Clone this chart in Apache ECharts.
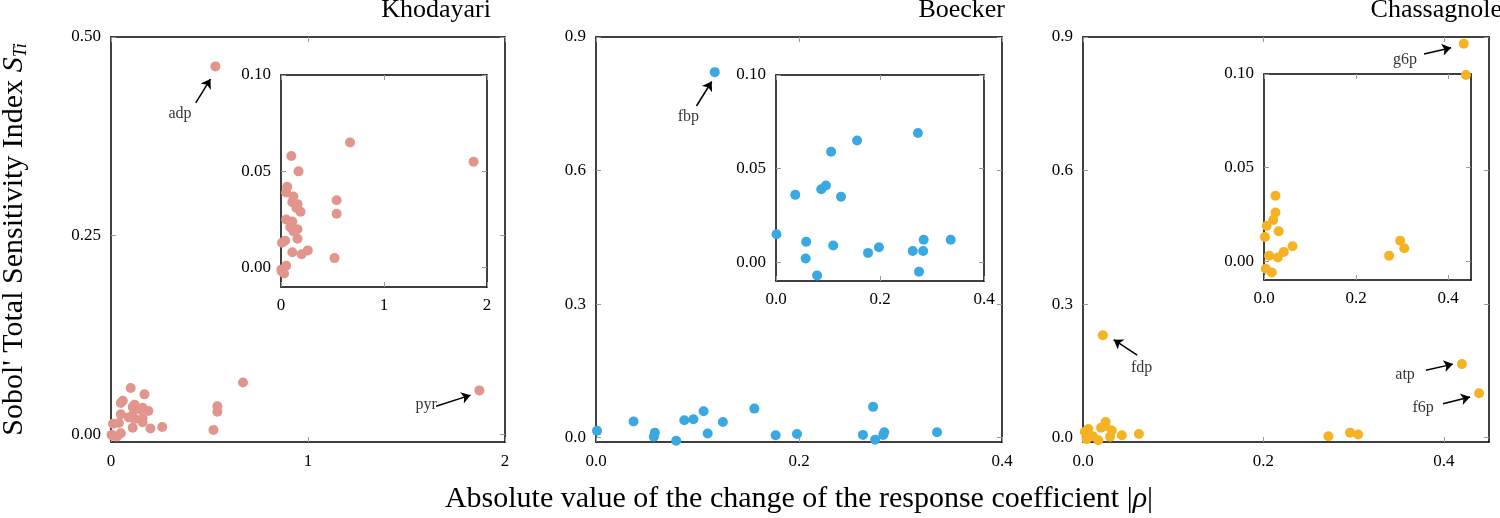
<!DOCTYPE html>
<html>
  <head>
    <meta charset="utf-8" />
    <title>Sobol total sensitivity vs response coefficient</title>
    <script src="https://cdn.jsdelivr.net/npm/echarts@6/dist/echarts.min.js"></script>
  </head>
  <body style="margin:0;background:#fff">
    <div id="main" style="width:1500px;height:518px;"></div>
    <script type="text/javascript">
// ---- data: [ |delta rho| , S_Ti ] ----
var panelNames = ['Khodayari', 'Boecker', 'Chassagnole'];

var khodayariPts = [
  [0.53, 0.463], [1.87, 0.055], [0.67, 0.065], [0.10, 0.058], [0.17, 0.050],
  [0.06, 0.042], [0.05, 0.039], [0.12, 0.037], [0.11, 0.034], [0.16, 0.033],
  [0.15, 0.031], [0.19, 0.029], [0.54, 0.035], [0.54, 0.028], [0.05, 0.025],
  [0.11, 0.024], [0.09, 0.021], [0.16, 0.020], [0.12, 0.019], [0.16, 0.015],
  [0.04, 0.014], [0.01, 0.013], [0.11, 0.008], [0.20, 0.007], [0.26, 0.009],
  [0.52, 0.005], [0.05, 0.001], [0.003, -0.001], [0.03, -0.003], [0.01, -0.002]
];

var boeckerPts = [
  [0.117, 0.821], [0.001, 0.015], [0.037, 0.036], [0.058, 0.011], [0.057, 0.002],
  [0.079, -0.007], [0.087, 0.039], [0.096, 0.041], [0.106, 0.059], [0.110, 0.009],
  [0.125, 0.035], [0.156, 0.065], [0.177, 0.005], [0.198, 0.008], [0.263, 0.006],
  [0.273, 0.069], [0.284, 0.012], [0.283, 0.006], [0.275, -0.005], [0.336, 0.012]
];

var chassagnolePts = [
  [0.422, 0.885], [0.022, 0.230], [0.420, 0.165], [0.439, 0.0995],
  [0.025, 0.035], [0.025, 0.026], [0.020, 0.022], [0.006, 0.019], [0.032, 0.016],
  [0.002, 0.013], [0.062, 0.008], [0.043, 0.005], [0.011, 0.003], [0.030, 0.002],
  [0.004, -0.004], [0.017, -0.006], [0.272, 0.003], [0.296, 0.011], [0.305, 0.007]
];

// annotations: label position, arrow tail, arrow head (data units)
var khodayariNotes = [
  { name: 'adp', text: [0.35, 0.403], tail: [0.43, 0.417], head: [0.505, 0.447] },
  { name: 'pyr', text: [1.60, 0.037], tail: [1.65, 0.035], head: [1.825, 0.049] }
];
var boeckerNotes = [
  { name: 'fbp', text: [0.091, 0.721], tail: [0.099, 0.745], head: [0.114, 0.800] }
];
var chassagnoleNotes = [
  { name: 'fdp', text: [0.065, 0.156], tail: [0.060, 0.185], head: [0.034, 0.220] },
  { name: 'g6p', text: [0.357, 0.848], tail: [0.378, 0.862], head: [0.408, 0.876] },
  { name: 'atp', text: [0.357, 0.140], tail: [0.380, 0.151], head: [0.410, 0.165] },
  { name: 'f6p', text: [0.377, 0.066], tail: [0.399, 0.076], head: [0.429, 0.091] }
];

// tick values
var xTicksK = [0, 1, 2];
var xTicksBC = [0, 0.2, 0.4];
var yTicksK = [0, 0.25, 0.5];
var yTicksBC = [0, 0.3, 0.6, 0.9];
var yTicksInset = [0, 0.05, 0.1];

var colors = ['#e2958c', '#3aa9e2', '#f5b324'];

// ---- layout ----
var FONT = 'Liberation Serif';
var mainBoxes = [
  { left: 111, top: 37, width: 394, height: 405 },
  { left: 596, top: 37, width: 406, height: 405 },
  { left: 1083, top: 37, width: 406, height: 405 }
];
var insetBoxes = [
  { left: 281, top: 75, width: 206, height: 212 },
  { left: 776, top: 75, width: 208, height: 206 },
  { left: 1264, top: 74, width: 207, height: 206 }
];
var panels = [
  { pts: khodayariPts, notes: khodayariNotes, x: [0, 2], y: [-0.01, 0.5], xt: xTicksK, yt: yTicksK, xd: 0, yd: 2 },
  { pts: boeckerPts, notes: boeckerNotes, x: [0, 0.4], y: [-0.01, 0.9], xt: xTicksBC, yt: yTicksBC, xd: 1, yd: 1 },
  { pts: chassagnolePts, notes: chassagnoleNotes, x: [0, 0.45], y: [-0.01, 0.9], xt: xTicksBC, yt: yTicksBC, xd: 1, yd: 1 }
];

function axis(gridIndex, pos, range, ticks, dec, showLabel, margin) {
  return {
    type: 'value', gridIndex: gridIndex, position: pos,
    min: range[0], max: range[1],
    splitLine: { show: false },
    axisLine: { show: true, onZero: false, lineStyle: { color: '#000', width: 1.5 } },
    axisTick: { show: true, inside: true, length: 5, customValues: ticks, lineStyle: { color: '#9a9a9a', width: 1 } },
    axisLabel: {
      show: showLabel, customValues: ticks, margin: margin,
      formatter: function (v) { return (+v).toFixed(dec); },
      fontFamily: FONT, fontSize: 17, color: '#000'
    }
  };
}

var grids = [], xAxes = [], yAxes = [], series = [];

panels.forEach(function (p, i) {
  var gm = 2 * i, gi = 2 * i + 1;
  var base = { show: true, backgroundColor: '#fff', borderWidth: 0, containLabel: false, outerBoundsMode: 'none' };
  grids.push(Object.assign({}, base, mainBoxes[i]));
  grids.push(Object.assign({}, base, insetBoxes[i]));

  // main: bottom/top, left/right
  xAxes.push(axis(gm, 'bottom', p.x, p.xt, p.xd, true, 11));
  xAxes.push(axis(gm, 'top', p.x, p.xt, p.xd, false, 8));
  yAxes.push(axis(gm, 'left', p.y, p.yt, p.yd, true, 10));
  yAxes.push(axis(gm, 'right', p.y, p.yt, p.yd, false, 8));
  // inset
  xAxes.push(axis(gi, 'bottom', p.x, p.xt, p.xd, true, 10));
  xAxes.push(axis(gi, 'top', p.x, p.xt, p.xd, false, 8));
  yAxes.push(axis(gi, 'left', [-0.01, 0.1], yTicksInset, 2, true, 10));
  yAxes.push(axis(gi, 'right', [-0.01, 0.1], yTicksInset, 2, false, 8));

  var mx = 4 * i, ix = 4 * i + 2;

  series.push({
    name: panelNames[i], type: 'scatter', xAxisIndex: mx, yAxisIndex: mx,
    data: p.pts, symbolSize: 10, clip: true,
    itemStyle: { color: colors[i], opacity: 1 },
    markLine: {
      silent: true, symbol: ['none', 'arrow'], symbolSize: 9,
      label: { show: false },
      emphasis: { disabled: true },
      itemStyle: { color: '#000' },
      lineStyle: { color: '#000', width: 1.5, type: 'solid', opacity: 1 },
      data: p.notes.map(function (n) { return [{ coord: n.tail }, { coord: n.head }]; })
    }
  });
  series.push({
    name: panelNames[i] + ' labels', type: 'scatter', xAxisIndex: mx, yAxisIndex: mx,
    data: p.notes.map(function (n) { return { name: n.name, value: n.text }; }),
    symbolSize: 1, itemStyle: { color: 'rgba(0,0,0,0)' }, silent: true,
    label: { show: true, position: 'inside', formatter: '{b}', color: '#000', fontFamily: FONT, fontSize: 16 }
  });
  series.push({
    name: panelNames[i] + ' inset', type: 'scatter', xAxisIndex: ix, yAxisIndex: ix,
    data: p.pts, symbolSize: 10, clip: true,
    itemStyle: { color: colors[i], opacity: 1 }
  });
});

// axis titles
yAxes[0].name = "{n|Sobol' Total Sensitivity Index }{i|S}{s|Ti}";
yAxes[0].nameLocation = 'middle';
yAxes[0].nameRotate = 90;
yAxes[0].nameGap = 81;
yAxes[0].nameTextStyle = {
  fontFamily: FONT, color: '#000', fontSize: 30,
  rich: {
    n: { fontFamily: FONT, fontSize: 30, color: '#000' },
    i: { fontFamily: FONT, fontSize: 30, fontStyle: 'italic', color: '#000' },
    s: { fontFamily: FONT, fontSize: 18, fontStyle: 'italic', color: '#000', verticalAlign: 'bottom', padding: [14, 0, 0, 0] }
  }
};
xAxes[4].name = '{n|Absolute value of the change of the response coefficient |}{i|ρ}{n||}';
xAxes[4].nameLocation = 'middle';
xAxes[4].nameGap = 42;
xAxes[4].nameTextStyle = {
  fontFamily: FONT, color: '#000', fontSize: 30,
  rich: {
    n: { fontFamily: FONT, fontSize: 30, color: '#000' },
    i: { fontFamily: FONT, fontSize: 30, fontStyle: 'italic', color: '#000' }
  }
};

var titleRights = [1009, 495, -2];
var titles = panelNames.map(function (t, i) {
  return {
    text: t, right: titleRights[i], top: -3, padding: 0,
    textStyle: { fontFamily: FONT, fontSize: 26, fontWeight: 'normal', color: '#000' }
  };
});

var myChart = echarts.init(document.getElementById('main'));
myChart.setOption({
  animation: false,
  backgroundColor: '#fff',
  title: titles,
  grid: grids,
  xAxis: xAxes,
  yAxis: yAxes,
  series: series
});
    </script>
  </body>
</html>
